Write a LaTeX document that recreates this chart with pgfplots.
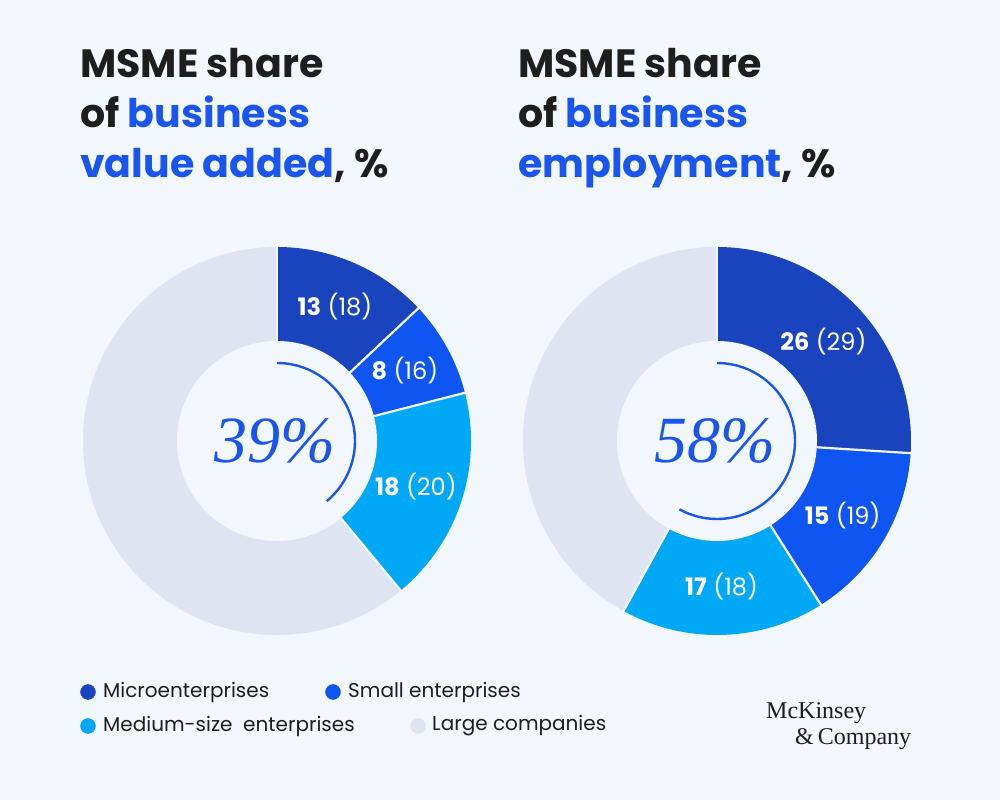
\documentclass[border=0pt]{standalone}
\usepackage{pgfplots}
\pgfplotsset{compat=1.18}
\usepackage{fontspec}
\setmainfont{Poppins}
\newfontfamily\pctfont{Liberation Serif}
\newfontfamily\logofont{Liberation Serif}
\definecolor{bg}{HTML}{F2F7FD}
\definecolor{micro}{HTML}{1A44BD}
\definecolor{small}{HTML}{0F55F2}
\definecolor{medium}{HTML}{00A8F5}
\definecolor{large}{HTML}{DEE4F1}
\definecolor{titleblue}{HTML}{1A56EE}
\definecolor{dark}{HTML}{1E1E1E}

% sector: cx, cy, cumulative start (%), value (%), colour
\newcommand{\sector}[5]{%
  \fill[#5] (axis cs:#1,#2) -- ++({90-3.6*(#3)}:194pt)
    arc[start angle={90-3.6*(#3)}, end angle={90-3.6*(#3+#4)}, radius=194pt] -- cycle;}
\newcommand{\sep}[3]{%
  \draw[bg, line width=2.2pt] (axis cs:#1,#2) -- ++({90-3.6*(#3)}:196pt);}
\newcommand{\seglabel}[5]{% cx cy start value text
  \path (axis cs:#1,#2) ++({90-3.6*(#3+#4/2)}:146pt)
    node[text=white, font=\fontsize{24}{28}\selectfont] {#5};}

\begin{document}
\begin{tikzpicture}
\begin{axis}[x=1pt, y=1pt, xmin=0, xmax=1000, ymin=0, ymax=800,
  hide axis, clip=false, disabledatascaling]
\fill[bg] (axis cs:0,0) rectangle (axis cs:1000,800);

% ---------- Left donut: value added (13, 8, 18, 61)
\sector{277}{359}{0}{13}{micro}
\sector{277}{359}{13}{8}{small}
\sector{277}{359}{21}{18}{medium}
\sector{277}{359}{39}{61}{large}
\sep{277}{359}{0}\sep{277}{359}{13}\sep{277}{359}{21}\sep{277}{359}{39}
\fill[bg] (axis cs:277,359) circle[radius=100pt];
\draw[titleblue, line width=2.4pt] (axis cs:277,359) ++(90:78pt) arc[start angle=90, end angle={90-3.6*39}, radius=78pt];
\seglabel{277}{359}{0}{13}{\textbf{13} (18)}
\seglabel{277}{359}{13}{8}{\textbf{8} (16)}
\seglabel{277}{359}{21}{18}{\textbf{18} (20)}
\node[text=titleblue, font=\pctfont\itshape\fontsize{66}{72}\selectfont] at (axis cs:275,359) {39\%};

% ---------- Right donut: employment (26, 15, 17, 42)
\sector{717}{359}{0}{26}{micro}
\sector{717}{359}{26}{15}{small}
\sector{717}{359}{41}{17}{medium}
\sector{717}{359}{58}{42}{large}
\sep{717}{359}{0}\sep{717}{359}{26}\sep{717}{359}{41}\sep{717}{359}{58}
\fill[bg] (axis cs:717,359) circle[radius=100pt];
\draw[titleblue, line width=2.4pt] (axis cs:717,359) ++(90:78pt) arc[start angle=90, end angle={90-3.6*58}, radius=78pt];
\seglabel{717}{359}{0}{26}{\textbf{26} (29)}
\seglabel{717}{359}{26}{15}{\textbf{15} (19)}
\seglabel{717}{359}{41}{17}{\textbf{17} (18)}
\node[text=titleblue, font=\pctfont\itshape\fontsize{66}{72}\selectfont] at (axis cs:715,359) {58\%};

% ---------- Titles
\begin{scope}[every node/.style={anchor=base west, text=dark, inner sep=0pt, font=\fontsize{39.5}{46}\selectfont\bfseries}]
\node at (axis cs:80,722) {MSME share};
\node at (axis cs:80,672) {of \textcolor{titleblue}{business}};
\node at (axis cs:80,622) {\textcolor{titleblue}{value added}, \%};
\node at (axis cs:518,722) {MSME share};
\node at (axis cs:518,672) {of \textcolor{titleblue}{business}};
\node at (axis cs:518,622) {\textcolor{titleblue}{employment}, \%};
\end{scope}

% ---------- Legend
\addplot[only marks, mark=*, mark size=7.5pt, color=micro] coordinates {(88,108)};
\addplot[only marks, mark=*, mark size=7.5pt, color=small] coordinates {(333,108)};
\addplot[only marks, mark=*, mark size=7.5pt, color=medium] coordinates {(88,74)};
\addplot[only marks, mark=*, mark size=7.5pt, color=large] coordinates {(418,74)};
\begin{scope}[every node/.style={anchor=west, text=dark, inner sep=0pt, font=\fontsize{20}{24}\selectfont}]
\node at (axis cs:103,108) {Microenterprises};
\node at (axis cs:348,108) {Small enterprises};
\node at (axis cs:103,74) {Medium-size\ \ enterprises};
\node at (axis cs:432,74) {Large companies};
\end{scope}

% ---------- Logo
\node[anchor=base west, inner sep=0pt, text=dark, font=\logofont\fontsize{24}{27}\selectfont] at (axis cs:766,82) {McKinsey};
\node[anchor=base west, inner sep=0pt, text=dark, font=\logofont\fontsize{24}{27}\selectfont] at (axis cs:795,56) {\&\,Company};
\end{axis}
\end{tikzpicture}
\end{document}
